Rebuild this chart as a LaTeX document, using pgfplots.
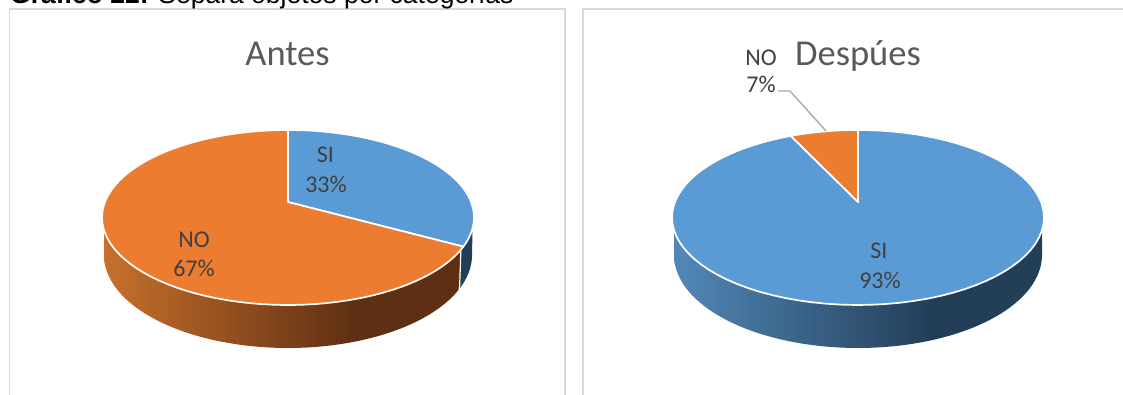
\documentclass[border=0pt]{standalone}
\usepackage{fontspec}
\usepackage{pgfplots}
\usepackage{pgfplotstable}
\pgfplotsset{compat=1.18}
\setmainfont{Carlito}
\newfontfamily\arialfont{Liberation Sans}

\definecolor{siblue}{HTML}{5B9BD5}
\definecolor{noorange}{HTML}{EB7C30}
\definecolor{labeltext}{HTML}{404040}
\definecolor{titletext}{HTML}{595959}
\definecolor{panelline}{HTML}{D9D9D9}
\definecolor{orange0}{HTML}{C8702C}
\definecolor{orange1}{HTML}{5F2F13}
\definecolor{blue0}{HTML}{5288B9}
\definecolor{blue1}{HTML}{233E57}
\definecolor{darkwall}{HTML}{233E57}

% Side walls: lit at the left, dark from about 70% of the width onward
\pgfdeclarehorizontalshading{wallorange}{100bp}{
  color(0bp)=(orange0); color(25bp)=(orange0); color(60bp)=(orange1); color(100bp)=(orange1)}
\pgfdeclarehorizontalshading{wallblue}{100bp}{
  color(0bp)=(blue0); color(25bp)=(blue0); color(60bp)=(blue1); color(100bp)=(blue1)}

\pgfplotstableread{
categoria porcentaje
SI 33
NO 67
}\tablaAntes
\pgfplotstableread{
categoria porcentaje
SI 93
NO 7
}\tablaDespues

\pgfplotstablegetelem{0}{porcentaje}\of\tablaAntes \let\siAntes\pgfplotsretval
\pgfplotstablegetelem{1}{porcentaje}\of\tablaAntes \let\noAntes\pgfplotsretval
\pgfplotstablegetelem{0}{porcentaje}\of\tablaDespues \let\siDespues\pgfplotsretval
\pgfplotstablegetelem{1}{porcentaje}\of\tablaDespues \let\noDespues\pgfplotsretval
\pgfmathsetmacro{\angAntes}{\siAntes*3.6}
\pgfmathsetmacro{\angDespues}{\siDespues*3.6}

% Top face of a tilted pie: circle seen in perspective, apex above the ellipse centre
% #1 centre x, #2 start angle, #3 end angle, #4 colour
\newcommand{\sector}[4]{%
  \addplot[fill=#4, draw=white, line width=1.7pt, line join=round, variable=\t, domain=#2:#3, samples=90]
    ({#1+186*0.984*sin(\t)/(1+0.177*cos(\t))},{217.5-87.5*(cos(\t)+0.177)/(1+0.177*cos(\t))})
    -- (axis cs:#1,202) -- cycle;
}
% Front wall, lower rim only; the top face is painted over its upper edge
% #1 centre x, #2 end of rim angle, #3 shading, #4 rim-end x, #5 rim-end y
\newcommand{\pared}[5]{%
  \addplot[draw=none, shading=#3, variable=\t, domain=0:#2, samples=70]
    ({#1-184*cos(\t)},{255+93*sin(\t)})
    -- (axis cs:#4,#5) -- (axis cs:#4,225) -- (axis cs:#1-184,225) -- cycle;
}

\begin{document}
\begin{tikzpicture}
\path[use as bounding box] (0,0) rectangle (1123pt,395pt);
\begin{axis}[
  at={(0,0)}, anchor=south west,
  scale only axis, width=1123pt, height=395pt,
  xmin=0, xmax=1123, ymin=0, ymax=395, y dir=reverse,
  axis lines=none, clip=false,
]
% panel frames
\addplot[panelline, line width=1.5pt] coordinates {(9.5,395) (9.5,9) (565,9) (565,395)};
\addplot[panelline, line width=1.5pt] coordinates {(583,395) (583,9) (1123,9)};

% Antes: walls
\addplot[fill=darkwall, draw=none, variable=\t, domain=158:180, samples=12]
  ({288-184*cos(\t)},{255+93*sin(\t)})
  -- (axis cs:472.5,232) -- (axis cs:461,248) -- cycle;
\pared{288}{158}{wallorange}{461}{247}
\addplot[white, line width=1.2pt] coordinates {(461,247) (459.5,290)};
% Antes: top face
\sector{288}{0}{\angAntes}{siblue}
\sector{288}{\angAntes}{360}{noorange}

% Después: walls and top face
\pared{858}{180}{wallblue}{1042}{255}
\sector{858}{0}{\angDespues}{siblue}
\sector{858}{\angDespues}{360}{noorange}

% leader line of the small slice
\addplot[color=black!35, line width=1.3pt] coordinates {(778,91) (790,91) (826,131)};

% titles
\node[anchor=base, text=titletext, font=\fontsize{36.5}{40}\selectfont] at (axis cs:287.5,65.5) {Antes};
\node[anchor=base, text=titletext, font=\fontsize{36.5}{40}\selectfont] at (axis cs:858,65.5) {Despúes};

% slice labels
\node[text=labeltext, font=\fontsize{24}{26}\selectfont, anchor=base] at (axis cs:325.5,162.7) {SI};
\node[text=labeltext, font=\fontsize{24}{26}\selectfont, anchor=base] at (axis cs:326,192.7) {\siAntes\%};
\node[text=labeltext, font=\fontsize{24}{26}\selectfont, anchor=base] at (axis cs:194,247.5) {NO};
\node[text=labeltext, font=\fontsize{24}{26}\selectfont, anchor=base] at (axis cs:194,276.5) {\noAntes\%};
\node[text=labeltext, font=\fontsize{24}{26}\selectfont, anchor=base] at (axis cs:879,258.7) {SI};
\node[text=labeltext, font=\fontsize{24}{26}\selectfont, anchor=base] at (axis cs:880,288.7) {\siDespues\%};
\node[text=labeltext, font=\fontsize{24}{26}\selectfont, anchor=base] at (axis cs:761,65.5) {NO};
\node[text=labeltext, font=\fontsize{24}{26}\selectfont, anchor=base] at (axis cs:761,92.5) {\noDespues\%};

% running caption, cut by the top edge
\node[anchor=base west, inner sep=0pt, font=\arialfont\fontsize{26.5}{28}\selectfont] at (axis cs:10,3.5) {\textbf{Gráfico 22:} Separa objetos por categorías};
\end{axis}
\end{tikzpicture}
\end{document}
